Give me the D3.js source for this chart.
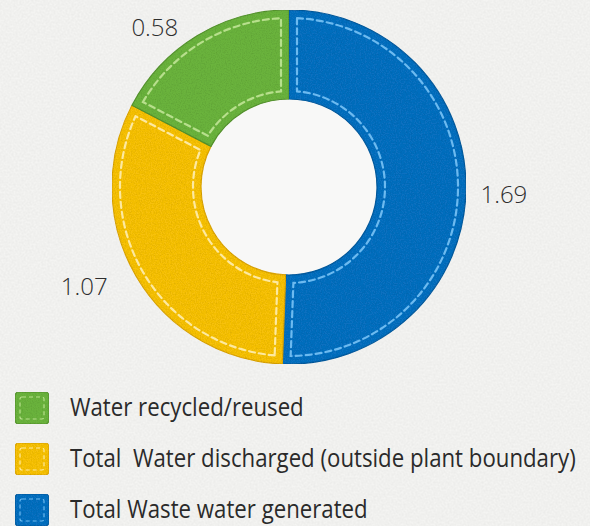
<!DOCTYPE html>
<html><head><meta charset="utf-8">
<script src="https://cdn.jsdelivr.net/npm/d3@7/dist/d3.min.js"></script>
<style>
html,body{margin:0;padding:0;background:#f4f4f2;}
svg{display:block}
</style>
</head><body>
<svg id="chart" width="590" height="526"></svg>
<script>
// ---- data ----
const categories = ["Total Waste water generated", "Total  Water discharged (outside plant boundary)", "Water recycled/reused"];
const values = [1.69, 1.07, 0.58];
const valueLabels = ["1.69", "1.07", "0.58"];
const fillColors = ["#0b6fc0", "#f7c110", "#6bb33e"];
const stitchColors = ["#6cbaf0", "#fde9a0", "#b7df8c"];
const edgeColors = ["#0a5c9f", "#dca50c", "#55942f"];
const legendOrder = [2, 1, 0];
// layout tweaks for value labels (degrees nudge, radius)
const labelNudge = [0.6, 4.6, -8.7];
const labelRadius = [215, 227, 209];

// ---- layout ----
const svg = d3.select("#chart");
const cx = 289, cy = 187, rOuter = 177, rInner = 88;

const defs = svg.append("defs");
const felt = defs.append("filter").attr("id", "felt").attr("x", 0).attr("y", 0).attr("width", 1).attr("height", 1);
felt.append("feTurbulence").attr("type", "fractalNoise").attr("baseFrequency", 0.8).attr("numOctaves", 2).attr("seed", 3).attr("result", "n");
felt.append("feColorMatrix").attr("in", "n").attr("type", "matrix")
  .attr("values", "0 0 0 0 0  0 0 0 0 0  0 0 0 0 0  0.4 0 0 0 -0.16").attr("result", "a");
felt.append("feComposite").attr("in", "a").attr("in2", "SourceGraphic").attr("operator", "in").attr("result", "t");
const fm = felt.append("feMerge");
fm.append("feMergeNode").attr("in", "SourceGraphic");
fm.append("feMergeNode").attr("in", "t");

// paper background
const paper = defs.append("filter").attr("id", "paper");
paper.append("feTurbulence").attr("type", "fractalNoise").attr("baseFrequency", 0.5).attr("numOctaves", 3).attr("seed", 7).attr("result", "n");
paper.append("feColorMatrix").attr("in", "n").attr("type", "matrix")
  .attr("values", "0 0 0 0 0  0 0 0 0 0  0 0 0 0 0  0.06 0 0 0 -0.015");
svg.append("rect").attr("width", 590).attr("height", 526).attr("fill", "#f4f4f2");
svg.append("rect").attr("width", 590).attr("height", 526).attr("fill", "#000").attr("filter", "url(#paper)");

const pie = d3.pie().sort(null).value(d => d)(values);

const arc = d3.arc().innerRadius(rInner).outerRadius(rOuter);
const stitchArc = d3.arc().innerRadius(rInner + 8).outerRadius(rOuter - 8)
  .padRadius(rOuter).padAngle(16 / rOuter);

const g = svg.append("g").attr("transform", `translate(${cx},${cy})`);

// slightly whiter hole
g.append("circle").attr("r", rInner).attr("fill", "#f8f8f7");

g.selectAll("path.seg").data(pie).join("path")
  .attr("class", "seg")
  .attr("d", arc)
  .attr("fill", (d, i) => fillColors[i])
  .attr("stroke", (d, i) => edgeColors[i])
  .attr("stroke-width", 1.2)
  .attr("filter", "url(#felt)");

g.selectAll("path.stitch").data(pie).join("path")
  .attr("class", "stitch")
  .attr("d", stitchArc)
  .attr("fill", "none")
  .attr("stroke", (d, i) => stitchColors[i])
  .attr("stroke-width", 2.2)
  .attr("stroke-dasharray", "6 4")
  .attr("stroke-linecap", "round");

// value labels
g.selectAll("text.val").data(pie).join("text")
  .attr("class", "val")
  .attr("x", (d, i) => {
    const a = (d.startAngle + d.endAngle) / 2 + labelNudge[i] * Math.PI / 180;
    return Math.sin(a) * labelRadius[i];
  })
  .attr("y", (d, i) => {
    const a = (d.startAngle + d.endAngle) / 2 + labelNudge[i] * Math.PI / 180;
    return -Math.cos(a) * labelRadius[i];
  })
  .attr("text-anchor", "middle")
  .attr("dominant-baseline", "central")
  .attr("font-family", "'Open Sans', sans-serif")
  .attr("font-weight", 300)
  .attr("font-size", 24)
  .attr("fill", "#2e2e2e")
  .text((d, i) => valueLabels[i]);

// legend
const legend = svg.append("g");
const rows = legend.selectAll("g").data(legendOrder).join("g")
  .attr("transform", (d, k) => `translate(0,${416 + k * 51})`);

rows.append("rect")
  .attr("x", 15).attr("y", -24).attr("width", 34).attr("height", 32)
  .attr("rx", 4)
  .attr("fill", i => fillColors[i])
  .attr("stroke", i => edgeColors[i])
  .attr("stroke-width", 1.2)
  .attr("filter", "url(#felt)");
rows.append("rect")
  .attr("x", 20).attr("y", -19).attr("width", 24).attr("height", 22)
  .attr("rx", 2)
  .attr("fill", "none")
  .attr("stroke", i => stitchColors[i])
  .attr("stroke-width", 1.2)
  .attr("stroke-dasharray", "4 3");

const texts = rows.append("text")
  .attr("x", 0).attr("y", 0)
  .attr("font-family", "'Open Sans', sans-serif")
  .attr("font-size", 25)
  .attr("fill", "#2a2a2a")
  .style("white-space", "pre")
  .text(i => categories[i]);

// horizontally condense legend labels to the narrow face of the original
let maxW = 0;
texts.each(function () { maxW = Math.max(maxW, this.getComputedTextLength()); });
const sx = 506 / maxW;
texts.attr("transform", `translate(70,0) scale(${sx},1)`);
</script>
</body></html>
